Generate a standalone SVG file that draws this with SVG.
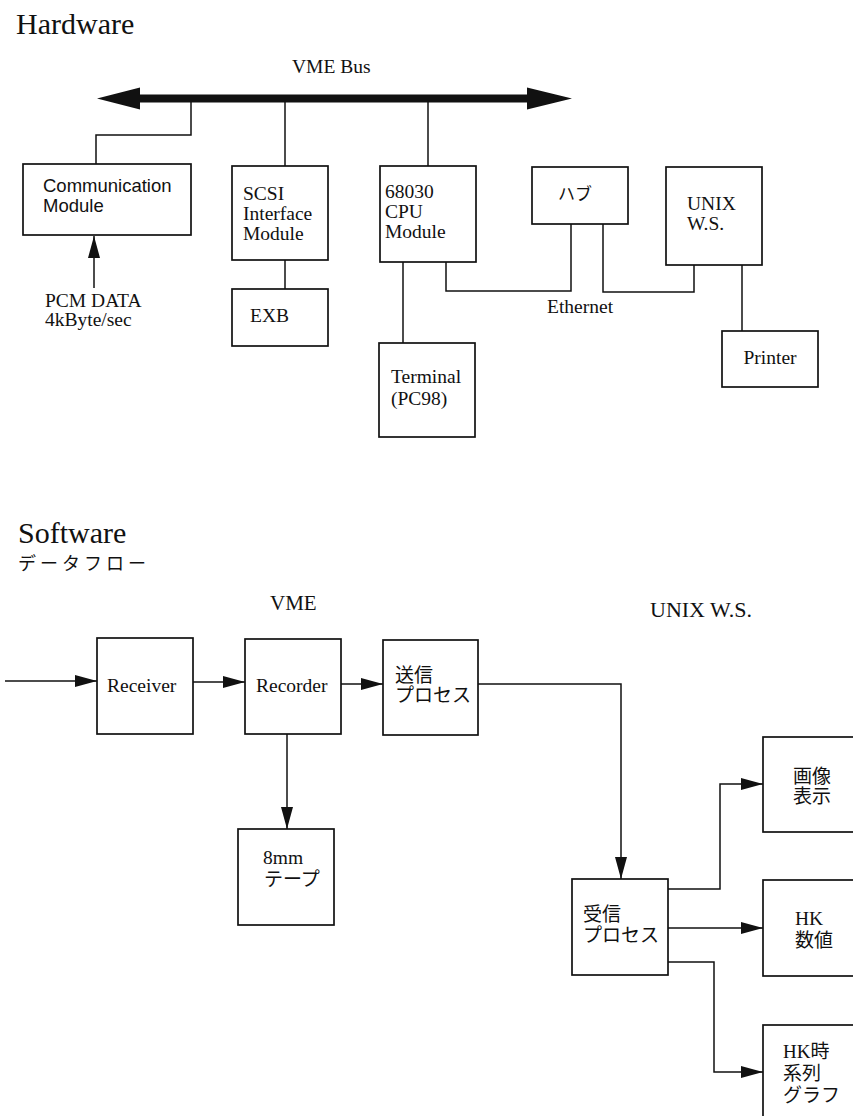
<svg xmlns="http://www.w3.org/2000/svg" width="853" height="1116" viewBox="0 0 853 1116">
<style>
  .bg { fill: #ffffff; }
  .box { fill: #ffffff; stroke: #111; stroke-width: 1.7; }
  .wire { fill: none; stroke: #111; stroke-width: 1.5; }
  .arr { fill: none; stroke: #111; stroke-width: 1.5; marker-end: url(#ah); }
  .t { font-family: "Liberation Serif", "Noto Sans CJK JP", serif; font-size: 19.5px; fill: #111; }
  .j { font-family: "Liberation Serif", "Noto Sans CJK JP", sans-serif; font-size: 19px; fill: #111; }
  .title { font-family: "Liberation Serif", serif; font-size: 30px; fill: #111; }
  .lab { font-family: "Liberation Serif", serif; font-size: 21px; fill: #111; }
</style>
<defs>
  <marker id="ah" markerUnits="userSpaceOnUse" markerWidth="22" markerHeight="12" refX="22" refY="6" orient="auto">
    <path d="M0,0 L22,6 L0,12 Z" fill="#111"/>
  </marker>
</defs>
<rect class="bg" x="0" y="0" width="853" height="1116"/>

<!-- Titles -->
<text class="title" x="16" y="34">Hardware</text>
<text class="title" x="18" y="543">Software</text>
<text class="j" x="18" y="570" style="font-size:18px; letter-spacing:4px">データフロー</text>
<text class="t" x="292" y="73">VME Bus</text>
<text class="lab" x="270" y="610">VME</text>
<text class="lab" x="650" y="617" style="font-size:22px">UNIX W.S.</text>

<!-- Connectors -->
<g id="connectors">
  <polygon id="vme-bus" points="97,98.5 140,87.5 140,94.5 527,94.5 527,87.5 572,98.5 527,109.5 527,102.5 140,102.5 140,109.5" fill="#111"/>
  <path class="wire" d="M191,102 V135 H96 V164"/>
  <path class="wire" d="M285,102 V166"/>
  <path class="wire" d="M428,102 V166"/>
  <path class="wire" d="M285,260 V289"/>
  <path class="wire" d="M403,262 V343"/>
  <path class="wire" d="M446,262 V291 H571 V224"/>
  <path class="wire" d="M603,224 V292 H694 V265"/>
  <path class="wire" d="M742,265 V331"/>
  <path class="arr" d="M94,288 V236"/>
  <text class="t" x="547" y="313">Ethernet</text>
  <text class="t" x="45" y="307">PCM DATA</text>
  <text class="t" x="45" y="326">4kByte/sec</text>

  <path class="arr" d="M5,681 H97"/>
  <path class="arr" d="M193,682 H245"/>
  <path class="arr" d="M341,684 H383"/>
  <path class="arr" d="M478,684 H621 V879"/>
  <path class="arr" d="M287,734 V829"/>
  <path class="arr" d="M668,889 H720 V784 H763"/>
  <path class="arr" d="M668,928 H763"/>
  <path class="arr" d="M668,962 H714 V1072 H763"/>
</g>

<!-- Hardware nodes -->
<g id="comm-module">
  <rect class="box" x="23" y="164" width="168" height="71"/>
  <text class="t" x="43" y="192" style="font-family:'Liberation Sans',sans-serif;font-size:18.5px">Communication</text>
  <text class="t" x="43" y="212" style="font-family:'Liberation Sans',sans-serif;font-size:18.5px">Module</text>
</g>
<g id="scsi-module">
  <rect class="box" x="232" y="166" width="96" height="94"/>
  <text class="t" x="243" y="200">SCSI</text>
  <text class="t" x="243" y="220">Interface</text>
  <text class="t" x="243" y="240">Module</text>
</g>
<g id="cpu-module">
  <rect class="box" x="380" y="166" width="96" height="96"/>
  <text class="t" x="385" y="198">68030</text>
  <text class="t" x="385" y="218">CPU</text>
  <text class="t" x="385" y="238">Module</text>
</g>
<g id="exb">
  <rect class="box" x="232" y="289" width="96" height="57"/>
  <text class="t" x="250" y="322">EXB</text>
</g>
<g id="terminal">
  <rect class="box" x="379" y="343" width="96" height="94"/>
  <text class="t" x="391" y="383">Terminal</text>
  <text class="t" x="391" y="405">(PC98)</text>
</g>
<g id="hub">
  <rect class="box" x="532" y="167" width="96" height="57"/>
  <text class="j" x="558" y="200" style="font-size:17px">ハブ</text>
</g>
<g id="unix-ws">
  <rect class="box" x="666" y="167" width="96" height="98"/>
  <text class="t" x="687" y="210">UNIX</text>
  <text class="t" x="687" y="230">W.S.</text>
</g>
<g id="printer">
  <rect class="box" x="722" y="331" width="96" height="56"/>
  <text class="t" x="770" y="364" text-anchor="middle">Printer</text>
</g>

<!-- Software nodes -->
<g id="receiver">
  <rect class="box" x="97" y="638" width="96" height="96"/>
  <text class="t" x="107" y="692">Receiver</text>
</g>
<g id="recorder">
  <rect class="box" x="245" y="639" width="96" height="95"/>
  <text class="t" x="256" y="692">Recorder</text>
</g>
<g id="send-process">
  <rect class="box" x="383" y="640" width="95" height="95"/>
  <text class="j" x="395" y="682">送信</text>
  <text class="j" x="395" y="702">プロセス</text>
</g>
<g id="tape">
  <rect class="box" x="238" y="829" width="96" height="96"/>
  <text class="t" x="263" y="864">8mm</text>
  <text class="j" x="264" y="886">テープ</text>
</g>
<g id="recv-process">
  <rect class="box" x="572" y="879" width="96" height="96"/>
  <text class="j" x="583" y="921">受信</text>
  <text class="j" x="583" y="942">プロセス</text>
</g>
<g id="image-display">
  <rect class="box" x="763" y="737" width="130" height="95"/>
  <text class="j" x="793" y="783">画像</text>
  <text class="j" x="793" y="803">表示</text>
</g>
<g id="hk-value">
  <rect class="box" x="763" y="880" width="130" height="96"/>
  <text class="t" x="795" y="925">HK</text>
  <text class="j" x="795" y="947">数値</text>
</g>
<g id="hk-graph">
  <rect class="box" x="763" y="1025" width="130" height="130"/>
  <text class="j" x="783" y="1058">HK時</text>
  <text class="j" x="783" y="1080">系列</text>
  <text class="j" x="783" y="1102">グラフ</text>
</g>
</svg>
